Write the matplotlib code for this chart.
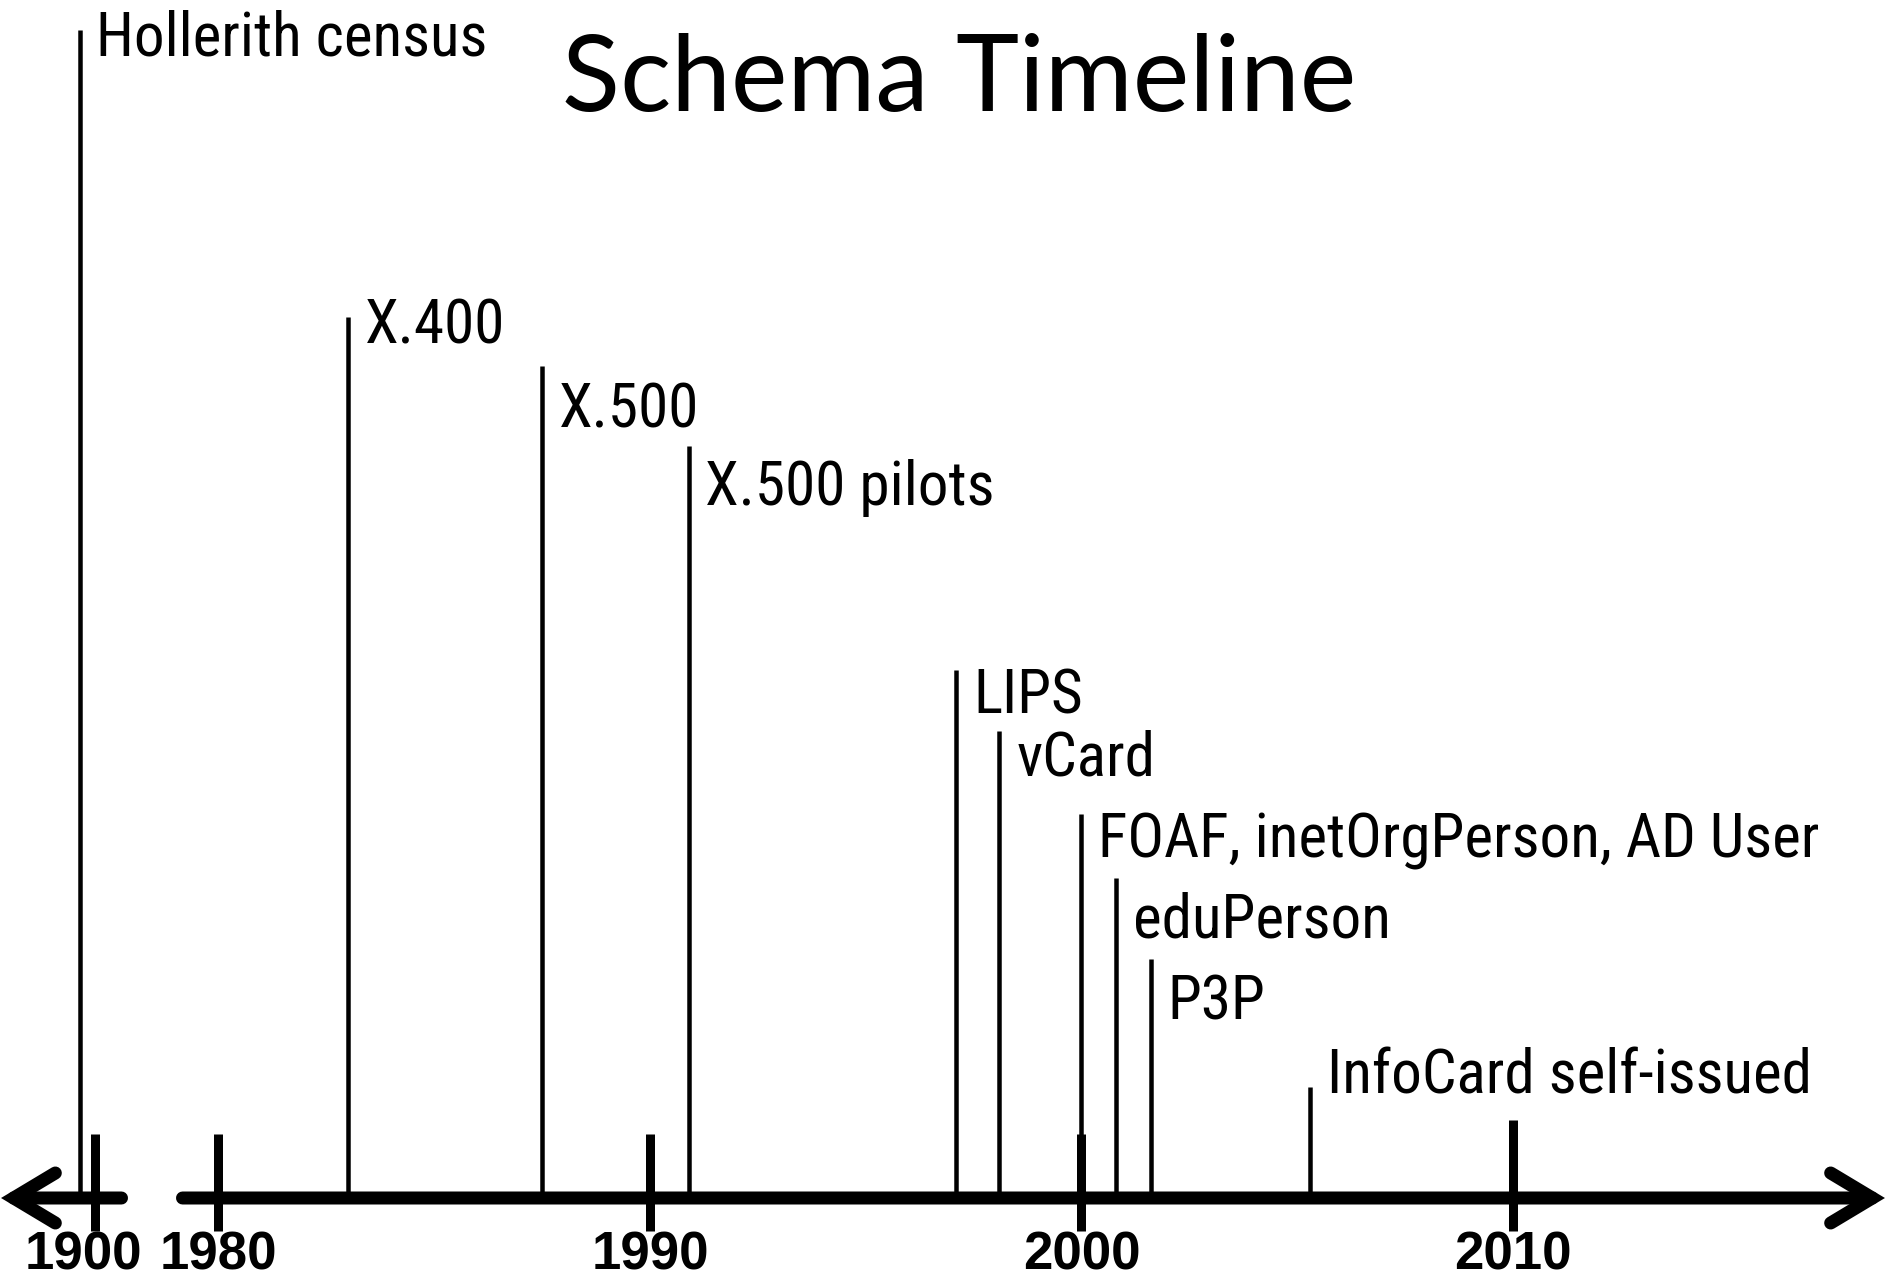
import matplotlib
matplotlib.use("Agg")
import matplotlib.pyplot as plt
from matplotlib.transforms import blended_transform_factory

# ---------------- data ----------------
event_names = ["Hollerith census", "X.400", "X.500", "X.500 pilots", "LIPS", "vCard",
               "FOAF, inetOrgPerson, AD User", "eduPerson", "P3P", "InfoCard self-issued"]
event_years = [1890, 1983.0, 1987.5, 1990.9, 1997.1, 1998.1, 2000.0, 2000.8, 2001.6, 2005.3]
event_heights = [1168, 881, 832, 752, 528, 467, 384, 320, 239, 111]

early_tick_years = [1900]
main_tick_years = [1980, 1990, 2000, 2010]
early_tick_labels = ["1900"]
main_tick_labels = ["1980", "1990", "2000", "2010"]

title = "Schema Timeline"

# ---------------- layout / style ----------------
W, H = 1892, 1279
DPI = 100
PX = 72.0 / DPI  # points per pixel
axis_y_px = 1198                      # axis line position from top
label_font = ["Roboto Condensed", "Archivo Narrow", "PT Sans Narrow",
              "IBM Plex Sans Condensed", "Liberation Sans", "DejaVu Sans"]
label_size = 44
cap_px = 44
# vertical shift (px, downward) of each label's cap top relative to its line top
label_dy_px = [-18, -18, 18, 15, 0, 0, 0, 15, 16, -37]

fig = plt.figure(figsize=(W / DPI, H / DPI), dpi=DPI)
fig.patch.set_facecolor("white")

ylim = (-(H - axis_y_px), axis_y_px)

# left (early) segment: figure px 0..128
ax_l = fig.add_axes([0, 0, 128 / W, 1])
ax_l.set_xlim(1837.0, 1922.3)
ax_l.set_ylim(*ylim)
# main segment: figure px 176..1892
ax_m = fig.add_axes([176 / W, 0, 1 - 176 / W, 1])
ax_m.set_xlim(1979.02, 2018.78)
ax_m.set_ylim(*ylim)

axis_lw = 13 * PX
for ax in (ax_l, ax_m):
    ax.axis("off")

# axis shafts with arrowheads (whole shaft drawn by the arrow)
tr_l = blended_transform_factory(ax_l.transAxes, ax_l.transData)
tr_m = blended_transform_factory(ax_m.transAxes, ax_m.transData)
arrow_props = dict(arrowstyle="->,head_length=30,head_width=18", mutation_scale=1,
                   lw=axis_lw, color="black", shrinkA=0, shrinkB=0,
                   capstyle="round", joinstyle="miter")
cap_l = 6.5 / 128
cap_m = 6.5 / (W - 176)
ax_l.annotate("", xy=(0.008, 0), xytext=(1 - cap_l, 0), xycoords=tr_l, textcoords=tr_l,
              arrowprops=arrow_props, annotation_clip=False)
ax_m.annotate("", xy=(0.9959, 0), xytext=(cap_m, 0), xycoords=tr_m, textcoords=tr_m,
              arrowprops=arrow_props, annotation_clip=False)

# ticks
tick_lw = 9 * PX
def draw_ticks(ax, years, labels):
    for yr, lab in zip(years, labels):
        top = 78 if yr == 2010 else 64
        ax.vlines(yr, -33, top, color="black", lw=tick_lw, clip_on=False)
        dx = -8 if yr == 1900 else 0
        ax.annotate(lab, xy=(yr, -71), xytext=(dx, 0), textcoords="offset points",
                    ha="center", va="baseline", fontsize=38, fontweight="heavy",
                    family=["Liberation Sans", "DejaVu Sans"], annotation_clip=False)

draw_ticks(ax_l, early_tick_years, early_tick_labels)
draw_ticks(ax_m, main_tick_years, main_tick_labels)

# events
line_lw = 4.5 * PX
for name, yr, h, dy in zip(event_names, event_years, event_heights, label_dy_px):
    ax = ax_l if yr < 1950 else ax_m
    ax.vlines(yr, 0, h, color="black", lw=line_lw, clip_on=False)
    ax.annotate(name, xy=(yr, h), xytext=(12, -(dy + cap_px) * PX),
                textcoords="offset points", ha="left", va="baseline",
                fontsize=label_size, family=label_font, annotation_clip=False)

# title
fig.text(959 / W, 1 - 111 / H, title, ha="center", va="baseline", fontsize=77,
         family=["Lato", "DejaVu Sans"])

fig.savefig("out.png", dpi=DPI, facecolor="white")
